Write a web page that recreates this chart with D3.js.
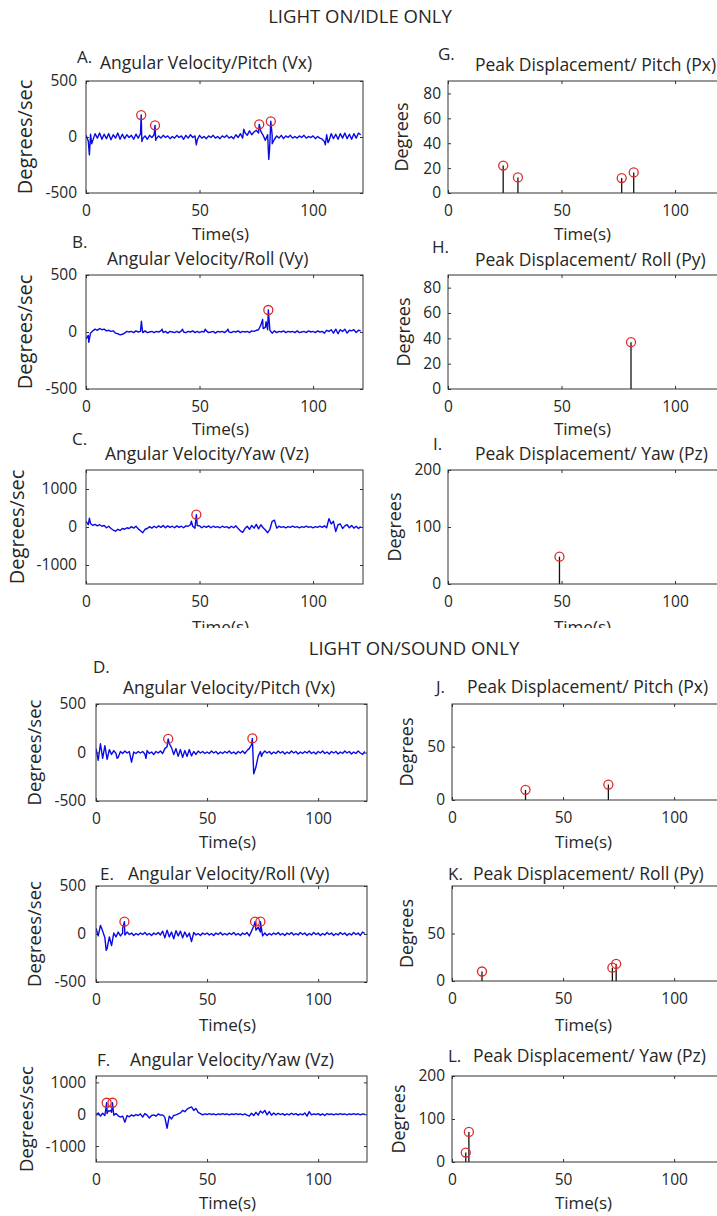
<!DOCTYPE html>
<html>
<head>
<meta charset="utf-8">
<script src="https://cdn.jsdelivr.net/npm/d3@7"></script>
<style>
  body { margin: 0; background: #fff; }
  svg text { font-family: "Open Sans", sans-serif; fill: #262626; }
</style>
</head>
<body>
<script>
// ---- values ----
const timeDomain = [0, 122];
const xTicks = [0, 50, 100];

// angular velocity, one sample per second (t = 0..121), deg/s
const vxIdle = [15,-35,25,-30,30,-10,35,-20,25,-15, 30,-25,20,-10,35,-20,25,-15,20,-5,
  15,-20,25,-10,30,-15,10,-20,15,-5, 20,-15,10,-10,15,-5,10,-15,5,-10,
  15,-5,10,-20,15,-10,20,-5,10,-25, 15,-10,5,-15,10,-5,15,-10,5,-15,
  10,-5,15,-10,5,-15,20,-5,30,-10, 40,15,55,20,45,60,35,50,15,-30,
  20,-40,15,-20,10,-10,15,-15,10,-5, 15,-10,5,-10,10,-5,15,-10,5,-5,
  10,-15,5,-10,-20,-40,20,-35,30,-15, 25,-20,30,-10,35,-15,25,-20,30,-10,35,20];
const vxIdleSpikes = [[1.5,-160],[2.5,-60],[24.6,-40],[30.7,-30],[48.6,-70],[69.5,70],[80.5,-200],[80.9,-90],[82,-60],[105.4,-70],[106.6,-50]];
const vxIdlePeaks = [[24.3,196],[30.4,104],[76.3,113],[81.4,140]];

const vyIdle = [-60,-30,-10,10,25,15,30,20,25,10, 15,5,10,-10,-15,-25,-20,-10,5,0,
  5,-5,10,0,5,-5,10,-5,0,5, -5,5,0,10,-5,5,-10,5,0,-5,
  5,-5,10,0,-5,5,0,10,-5,5, -5,5,0,10,-5,0,5,-10,5,0,
  5,-5,10,0,-5,5,0,10,-5,5, 0,5,-5,10,5,15,20,60,30,40,
  20,15,-10,10,-5,5,0,10,-5,5, 0,5,-5,10,-5,0,5,-5,10,0,
  5,-5,10,0,5,-10,15,5,20,-10, 25,-15,20,5,25,-10,15,10,20,-5,15,10];
const vyIdleSpikes = [[1.2,-90],[24.4,95],[24.8,20],[33.5,25],[42.5,25],[52.5,25],[62.5,25],[77.8,110],[79.3,90]];
const vyIdlePeaks = [[80.3,193]];

const vzIdle = [150,60,90,40,70,30,60,20,40,-20, 20,-40,-80,-110,-60,-90,-40,-60,-20,-40,
  10,-30,20,-50,-100,-150,-60,-40,10,-30, 20,-20,30,-10,40,-20,30,-10,20,-20,
  30,-10,20,-20,30,20,60,20,-30,40, 30,-20,20,-10,30,-20,20,-10,10,-20,
  20,-10,10,-30,20,-20,30,-40,-100,-140, -40,20,-60,40,-30,70,-50,60,-20,-80,
  -150,-60,150,180,-30,20,-10,10,-20,10, -10,20,-10,10,-20,10,-10,20,-10,10,
  -20,10,-10,20,-10,30,-20,220,80,150, -120,60,80,-40,30,60,-20,40,-30,20,-40,10];
const vzIdleSpikes = [[1.5,230],[46.4,150]];
const vzIdlePeaks = [[48.6,326]];

const vxSound = [40,-80,90,-60,70,-70,30,-20,20,-10, -50,10,-10,15,-5,10,-100,5,-10,10,
  -5,10,-15,20,-10,5,-20,10,-5,15, -10,40,60,90,50,-20,40,-40,30,-50,
  20,-40,30,-35,10,-20,15,-5,10,-10, 5,-10,15,-5,10,-15,5,-10,10,-5,
  15,-10,5,-15,10,-5,15,-10,20,40, 80,-220,-150,-40,10,-10,15,-5,10,-15,
  5,-10,15,-5,10,-15,5,-10,15,-5, 10,-15,5,-10,10,-5,15,-10,5,-15,
  10,-5,15,-10,5,-15,10,-5,10,-15, 5,-10,15,-5,10,-15,5,-10,15,-5,-20,10];
const vxSoundSpikes = [[9.5,-60],[22.5,-60],[74.5,-40]];
const vxSoundPeaks = [[32.5,140],[70.4,145]];

const vySound = [60,-20,90,30,-40,-150,-30,-120,10,-30, 20,-20,10,-10,20,-5,10,-15,5,-10,
  10,-5,15,-10,5,-15,10,-5,15,-10, 30,-40,40,-30,20,-50,35,-20,30,-40,
  20,-30,10,-80,15,-10,5,-15,10,-5, 10,-10,5,-15,10,-5,15,-10,5,-10,
  10,-5,15,-10,5,-15,10,-5,15,-20, 30,80,40,70,20,-20,10,-15,5,-10,
  10,-5,15,-10,5,-15,10,-5,15,-10, 5,-10,15,-5,10,-15,5,-10,15,-5,
  10,-15,5,-10,15,-5,10,-15,5,-10, 15,-5,10,-15,5,-10,15,-5,10,-15,20,5];
const vySoundSpikes = [[4.6,-170],[12,60]];
const vySoundPeaks = [[12.8,128],[71.6,128],[74,128]];

const vzSound = [-20,40,-60,30,-40,20,100,60,-30,20, -50,-90,-60,-250,-40,-80,-20,-60,-10,-40,
  10,-90,20,-30,-120,-40,-20,-60,10,-30, -20,-100,-440,-60,-150,-40,-20,10,40,120,
  80,160,200,230,120,180,60,20,-20,10, -10,20,-10,10,-20,10,-10,20,-10,10,
  -20,10,-10,20,-10,10,-20,10,-30,-60, 30,-40,60,-30,100,40,120,-20,80,-30,
  40,-20,30,-10,20,-30,10,-20,30,-10, 20,-30,10,-20,40,-60,80,-20,10,-10,
  20,-30,10,-40,20,-10,10,-20,10,-10, 20,-10,10,-20,10,-10,20,-10,10,-20,10,0];
const vzSoundSpikes = [[5.5,100],[6.6,120]];
const vzSoundPeaks = [[4.8,360],[7.4,360]];

// peak displacement stems [time, degrees]
const pxIdle = [[24.3,22],[30.8,12.5],[76.5,12],[81.8,16.5]];
const pyIdle = [[80.6,37]];
const pzIdle = [[49.1,48]];
const pxSound = [[33.1,9.5],[70.4,14.5]];
const pySound = [[13.5,10],[72.2,14],[73.9,18]];
const pzSound = [[6.2,22],[7.6,70]];

// ---- layout ----
const W = 717, H = 1216;
const panels = [
  {letter:"A.", title:"Angular Velocity/Pitch (Vx)", base:vxIdle, spikes:vxIdleSpikes, peaks:vxIdlePeaks,
   yDomain:[-500,500], yTicks:[-500,0,500], ylabel:"Degrees/sec", ylabelSize:20,
   box:[86,81,277,112], letterPos:[77,63], titlePos:[100,69], ylabelX:32, xlabelY:240, yPad:9},
  {letter:"B.", title:"Angular Velocity/Roll (Vy)", base:vyIdle, spikes:vyIdleSpikes, peaks:vyIdlePeaks,
   yDomain:[-500,500], yTicks:[-500,0,500], ylabel:"Degrees/sec", ylabelSize:20,
   box:[86,275,277,114], letterPos:[72,248], titlePos:[107,265], ylabelX:32, xlabelY:435, yPad:9},
  {letter:"C.", title:"Angular Velocity/Yaw (Vz)", base:vzIdle, spikes:vzIdleSpikes, peaks:vzIdlePeaks,
   yDomain:[-1500,1500], yTicks:[-1000,0,1000], ylabel:"Degrees/sec", ylabelSize:20,
   box:[86,470,277,114], letterPos:[72,445], titlePos:[105,460], ylabelX:24, xlabelY:633, yPad:9, cut:628},
  {letter:"G.", title:"Peak Displacement/ Pitch (Px)", stems:pxIdle,
   yDomain:[0,90], yTicks:[0,20,40,60,80], ylabel:"Degrees", ylabelSize:18,
   box:[448,81,277,112], letterPos:[438,60], titlePos:[475,71], ylabelX:408, xlabelY:240, yPad:7},
  {letter:"H.", title:"Peak Displacement/ Roll (Py)", stems:pyIdle,
   yDomain:[0,90], yTicks:[0,20,40,60,80], ylabel:"Degrees", ylabelSize:18,
   box:[448,275,277,114], letterPos:[432,253], titlePos:[475,266], ylabelX:410, xlabelY:435, yPad:7},
  {letter:"I.", title:"Peak Displacement/ Yaw (Pz)", stems:pzIdle,
   yDomain:[0,200], yTicks:[0,100,200], ylabel:"Degrees", ylabelSize:18,
   box:[448,470,277,114], letterPos:[433,450], titlePos:[475,460], ylabelX:401, xlabelY:633, yPad:7, cut:628},
  {letter:"D.", title:"Angular Velocity/Pitch (Vx)", base:vxSound, spikes:vxSoundSpikes, peaks:vxSoundPeaks,
   yDomain:[-500,500], yTicks:[-500,0,500], ylabel:"Degrees/sec", ylabelSize:18.5,
   box:[96,704,271,97], letterPos:[93,673], titlePos:[123,694], ylabelX:41, xlabelY:848, yPad:10},
  {letter:"E.", title:"Angular Velocity/Roll (Vy)", base:vySound, spikes:vySoundSpikes, peaks:vySoundPeaks,
   yDomain:[-500,500], yTicks:[-500,0,500], ylabel:"Degrees/sec", ylabelSize:18.5,
   box:[96,886,271,96], letterPos:[100,880], titlePos:[128,880], ylabelX:41, xlabelY:1031, yPad:10},
  {letter:"F.", title:"Angular Velocity/Yaw (Vz)", base:vzSound, spikes:vzSoundSpikes, peaks:vzSoundPeaks,
   yDomain:[-1500,1200], yTicks:[-1000,0,1000], ylabel:"Degrees/sec", ylabelSize:18.5,
   box:[96,1076,271,86], letterPos:[97,1066], titlePos:[130,1066], ylabelX:33, xlabelY:1209, yPad:10},
  {letter:"J.", title:"Peak Displacement/ Pitch (Px)", stems:pxSound,
   yDomain:[0,90], yTicks:[0,50], ylabel:"Degrees", ylabelSize:18,
   box:[452,704,271,96], letterPos:[436,693], titlePos:[467,693], ylabelX:413, xlabelY:848, yPad:7},
  {letter:"K.", title:"Peak Displacement/ Roll (Py)", stems:pySound,
   yDomain:[0,100], yTicks:[0,50], ylabel:"Degrees", ylabelSize:18,
   box:[452,886,271,95], letterPos:[448,880], titlePos:[473,880], ylabelX:413, xlabelY:1031, yPad:7},
  {letter:"L.", title:"Peak Displacement/ Yaw (Pz)", stems:pzSound,
   yDomain:[0,200], yTicks:[0,100,200], ylabel:"Degrees", ylabelSize:18,
   box:[452,1076,271,86], letterPos:[448,1062], titlePos:[473,1062], ylabelX:405, xlabelY:1209, yPad:7}
];

const headings = [
  {text:"LIGHT ON/IDLE ONLY", x:360, y:23},
  {text:"LIGHT ON/SOUND ONLY", x:414, y:655}
];

const axisColor = "#333", lineBlue = "#0a0ae6", markRed = "#dd2a2a";
const plainNum = d => String(d);

const svg = d3.select("body").append("svg")
  .attr("width", W).attr("height", H)
  .attr("viewBox", `0 0 ${W} ${H}`);

svg.append("defs").append("clipPath").attr("id", "rowcut")
  .append("rect").attr("x", 0).attr("y", 0).attr("width", W).attr("height", 628);

let styleAxis = (g, size) => {
  g.attr("font-family", null).attr("font-size", null);
  g.select(".domain").remove();
  g.selectAll(".tick line").attr("stroke", axisColor).attr("stroke-width", 1);
  g.selectAll(".tick text").style("font-size", size + "px");
};

panels.forEach((p, i) => {
  const [bx, by, bw, bh] = p.box;
  const x = d3.scaleLinear().domain(timeDomain).range([0, bw]);
  const y = d3.scaleLinear().domain(p.yDomain).range([bh, 0]);
  const g = svg.append("g").attr("transform", `translate(${bx},${by})`);

  g.append("clipPath").attr("id", "clip" + i)
    .append("rect").attr("width", bw).attr("height", bh);

  // axes, MATLAB style: inward ticks on all four sides
  g.append("g").attr("transform", `translate(0,${bh})`)
    .call(d3.axisBottom(x).tickValues(xTicks).tickSize(-3).tickPadding(12).tickFormat(plainNum))
    .call(a => styleAxis(a, 15.5));
  g.append("g")
    .call(d3.axisTop(x).tickValues(xTicks).tickSize(-3).tickFormat(""))
    .call(a => styleAxis(a, 0));
  g.append("g")
    .call(d3.axisLeft(y).tickValues(p.yTicks).tickSize(-3).tickPadding(p.yPad).tickFormat(plainNum))
    .call(a => styleAxis(a, 15.5));
  g.append("g").attr("transform", `translate(${bw},0)`)
    .call(d3.axisRight(y).tickValues(p.yTicks).tickSize(-3).tickFormat(""))
    .call(a => styleAxis(a, 0));

  const plot = g.append("g").attr("clip-path", `url(#clip${i})`);

  if (p.base) {
    const pts = p.base.map((v, t) => [t, v]).concat(p.spikes, p.peaks)
      .sort((a, b) => a[0] - b[0]);
    plot.append("path").datum(pts)
      .attr("fill", "none").attr("stroke", lineBlue).attr("stroke-width", 1.4)
      .attr("stroke-linejoin", "round")
      .attr("d", d3.line().x(d => x(d[0])).y(d => y(d[1])));
    plot.selectAll("circle.peak").data(p.peaks).enter().append("circle")
      .attr("class", "peak")
      .attr("cx", d => x(d[0])).attr("cy", d => y(d[1])).attr("r", 4.5)
      .attr("fill", "none").attr("stroke", markRed).attr("stroke-width", 1.3);
  } else {
    plot.selectAll("line.stem").data(p.stems).enter().append("line")
      .attr("class", "stem")
      .attr("x1", d => x(d[0])).attr("x2", d => x(d[0]))
      .attr("y1", y(0)).attr("y2", d => y(d[1]))
      .attr("stroke", "#111").attr("stroke-width", 1.3);
    plot.selectAll("circle.peak").data(p.stems).enter().append("circle")
      .attr("class", "peak")
      .attr("cx", d => x(d[0])).attr("cy", d => y(d[1])).attr("r", 4.5)
      .attr("fill", "none").attr("stroke", markRed).attr("stroke-width", 1.3);
  }

  g.append("rect").attr("width", bw).attr("height", bh)
    .attr("fill", "none").attr("stroke", axisColor).attr("stroke-width", 1);

  // labels
  svg.append("text").attr("x", p.letterPos[0]).attr("y", p.letterPos[1])
    .style("font-size", "17px").text(p.letter);
  svg.append("text").attr("x", p.titlePos[0]).attr("y", p.titlePos[1])
    .style("font-size", "17.5px").text(p.title);
  svg.append("text")
    .attr("transform", `translate(${p.ylabelX},${by + bh / 2}) rotate(-90)`)
    .attr("text-anchor", "middle").style("font-size", p.ylabelSize + "px").text(p.ylabel);
  const xl = svg.append("text").attr("x", bx + bw / 2 - 4).attr("y", p.xlabelY)
    .attr("text-anchor", "middle").style("font-size", "17px").text("Time(s)");
  if (p.cut) xl.attr("clip-path", "url(#rowcut)");
});

svg.selectAll("text.heading").data(headings).enter().append("text")
  .attr("class", "heading")
  .attr("x", d => d.x).attr("y", d => d.y)
  .attr("text-anchor", "middle").style("font-size", "18.5px")
  .text(d => d.text);
</script>
</body>
</html>
